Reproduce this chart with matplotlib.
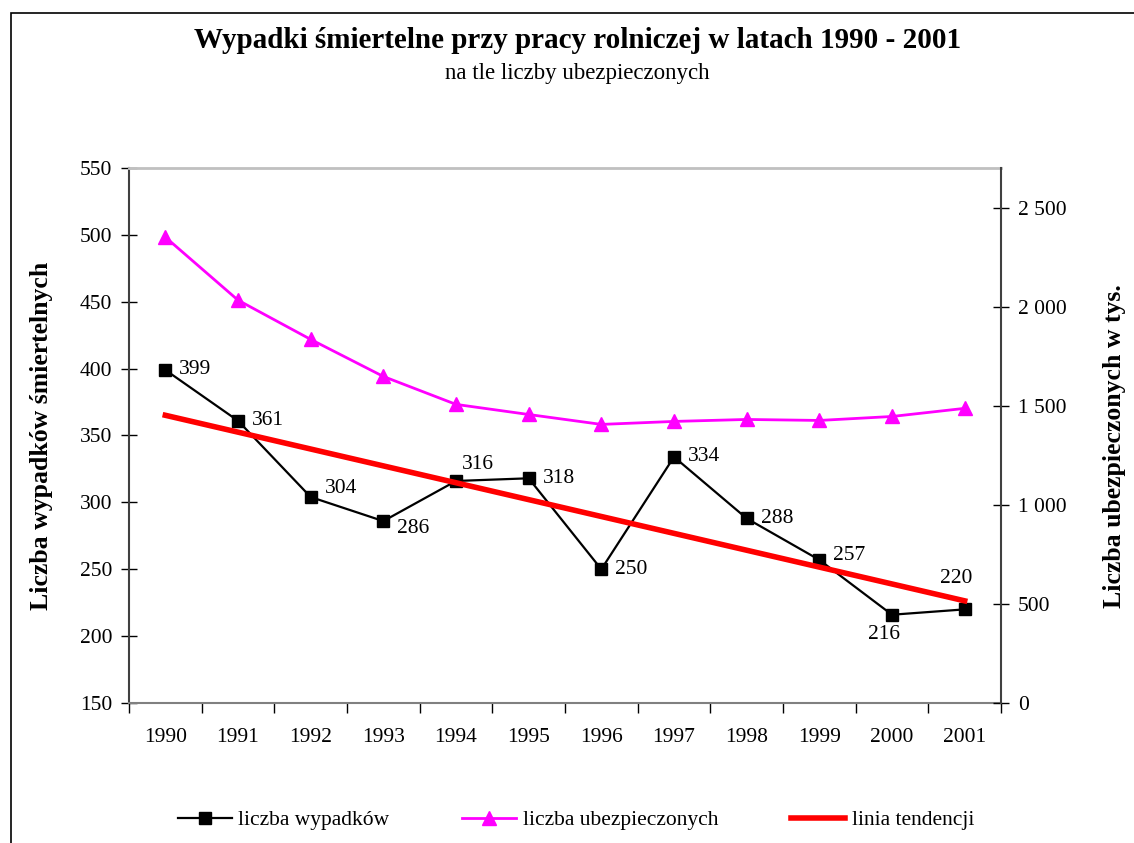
import matplotlib
matplotlib.use('Agg')
import matplotlib.pyplot as plt
import numpy as np
from matplotlib.patches import Rectangle
from matplotlib.ticker import FuncFormatter, FixedLocator

plt.rcParams['font.family'] = ['Liberation Serif', 'DejaVu Serif']

years = ['1990', '1991', '1992', '1993', '1994', '1995',
         '1996', '1997', '1998', '1999', '2000', '2001']
accidents = [399, 361, 304, 286, 316, 318, 250, 334, 288, 257, 216, 220]
insured = [2351, 2033, 1835, 1648, 1507, 1456, 1406, 1421, 1431, 1426, 1446, 1487]

# label offsets in points (dx, dy, ha, va) for each accident value
label_pos = [(10, 0, 'left', 'center'), (10, 0, 'left', 'center'),
             (10, 6, 'left', 'center'), (10, -5, 'left', 'center'),
             (4, 12, 'left', 'center'), (10, 0, 'left', 'center'),
             (10, 0, 'left', 'center'), (10, 0, 'left', 'center'),
             (10, 0, 'left', 'center'), (10, 3, 'left', 'center'),
             (-6, -14, 'center', 'center'), (-6, 22, 'center', 'center')]


def thousands(v, pos):
    return f'{int(v):,}'.replace(',', ' ')


def main():
    fig = plt.figure(figsize=(11.34, 8.43), dpi=100)
    fig.patches.append(Rectangle((11 / 1134, -0.1), 1.2, 1.1 - 13.5 / 843,
                                 transform=fig.transFigure, fill=False,
                                 edgecolor='black', linewidth=1.2))

    ax = fig.add_axes([129 / 1134, 140 / 843, 872 / 1134, 535 / 843])
    x = np.arange(len(years))

    ax.set_xlim(-0.5, len(years) - 0.5)
    ax.set_ylim(150, 550)
    ax.set_yticks(np.arange(150, 551, 50))
    ax.set_xticks(x)
    ax.set_xticklabels(years, fontsize=15.5)
    ax.xaxis.set_minor_locator(FixedLocator(np.arange(-0.5, len(years), 1)))
    ax.tick_params(axis='x', which='major', length=0, pad=18)
    ax.tick_params(axis='x', which='minor', length=7, width=1, direction='out')
    ax.tick_params(axis='y', labelsize=15.5, direction='inout', length=12, width=1, pad=6)

    ax.spines['top'].set_color('#c0c0c0')
    ax.spines['top'].set_linewidth(2)
    ax.spines['left'].set_color('#404040')
    ax.spines['left'].set_linewidth(1.5)
    ax.spines['bottom'].set_color('#808080')
    ax.spines['bottom'].set_linewidth(1.5)
    ax.spines['right'].set_visible(False)

    ax2 = ax.twinx()
    ax2.set_ylim(0, 2700)
    ax2.set_yticks(np.arange(0, 2501, 500))
    ax2.yaxis.set_major_formatter(FuncFormatter(thousands))
    ax2.tick_params(axis='y', labelsize=15.5, direction='inout', length=12, width=1, pad=6)
    ax2.spines['right'].set_color('#404040')
    ax2.spines['right'].set_linewidth(1.5)
    for s in ['top', 'left', 'bottom']:
        ax2.spines[s].set_visible(False)

    l2, = ax2.plot(x, insured, color='#ff00ff', linewidth=2, marker='^',
                   markersize=10, label='liczba ubezpieczonych')

    # trend line: linear fit of accidents
    coef = np.polyfit(x, accidents, 1)
    ax3 = ax.twinx()
    ax3.set_ylim(150, 550)
    ax3.axis('off')
    l1, = ax3.plot(x, accidents, color='black', linewidth=1.6, marker='s',
                   markersize=9, label='liczba wypadków')
    l3, = ax3.plot(x, np.polyval(coef, x), color='#ff0000', linewidth=4,
                   label='linia tendencji', zorder=3)
    for xi, v, (dx, dy, ha, va) in zip(x, accidents, label_pos):
        ax3.annotate(str(v), (xi, v), xytext=(dx, dy), textcoords='offset points',
                     ha=ha, va=va, fontsize=15.5)

    ax.set_ylabel('Liczba wypadków śmiertelnych', fontsize=18.5, fontweight='bold')
    ax.yaxis.set_label_coords(-0.087, 0.499)
    ax2.set_ylabel('Liczba ubezpieczonych w tys.', fontsize=18.5, fontweight='bold')
    ax2.yaxis.set_label_coords(1.117, 0.48)

    fig.text(0.509, 1 - 41 / 843, 'Wypadki śmiertelne przy pracy rolniczej w latach 1990 - 2001',
             ha='center', va='center', fontsize=21, fontweight='bold')
    fig.text(0.509, 1 - 73 / 843, 'na tle liczby ubezpieczonych',
             ha='center', va='center', fontsize=16.5)

    fig.legend([l1, l2, l3], ['liczba wypadków', 'liczba ubezpieczonych', 'linia tendencji'],
               loc='center', bbox_to_anchor=(576 / 1134, 1 - 820 / 843), ncol=3,
               frameon=False, fontsize=15.5, handlelength=2.5, handletextpad=0.3,
               columnspacing=3.4)

    fig.savefig('out.png', dpi=100)


if __name__ == '__main__':
    main()
